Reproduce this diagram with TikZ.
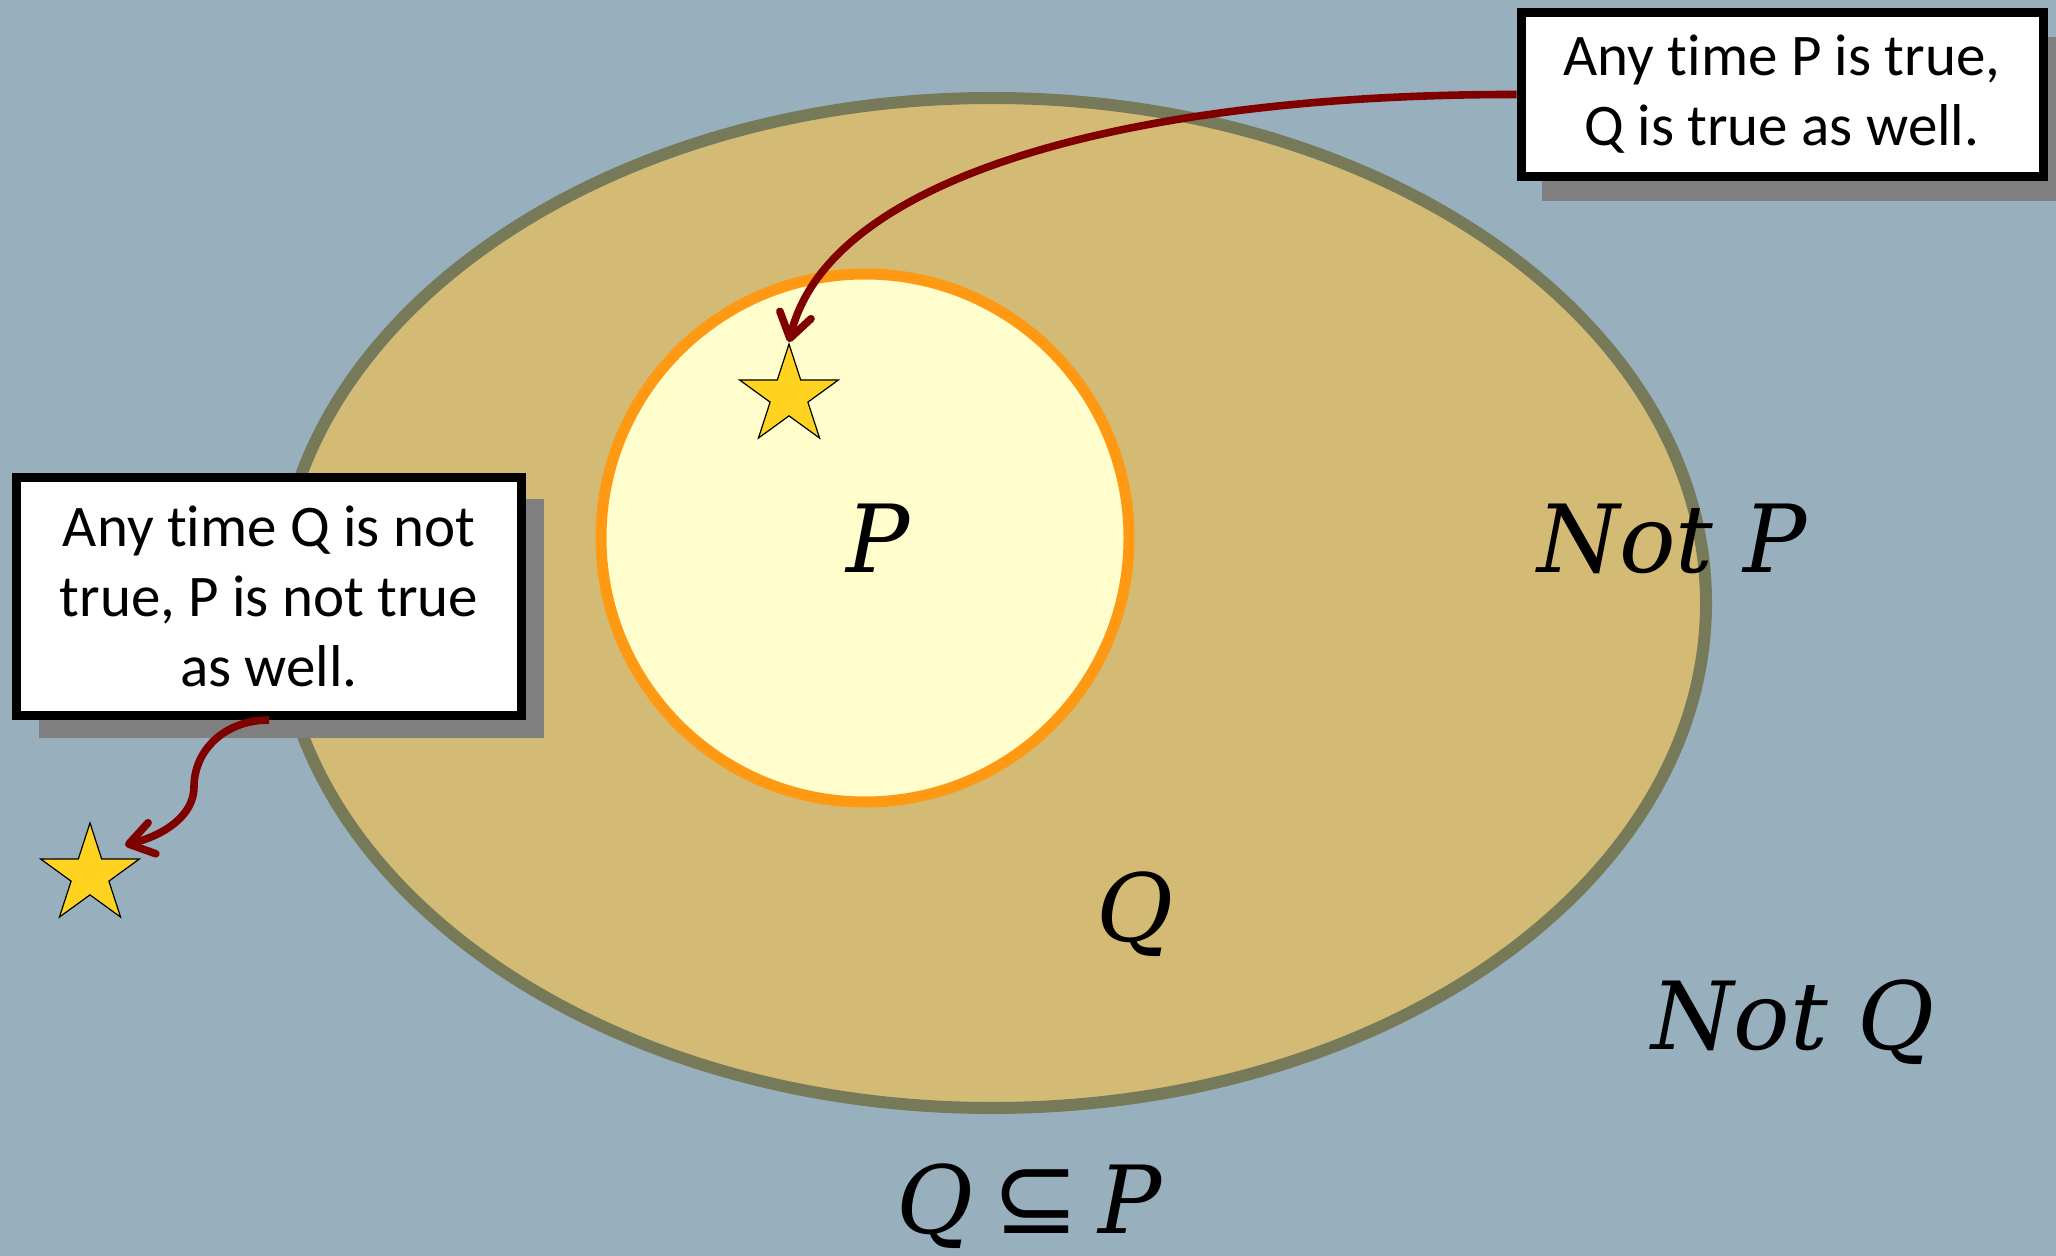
\documentclass[tikz,border=0pt]{standalone}
\usepackage{fontspec}
\usetikzlibrary{arrows.meta,shapes.geometric,shadows}
\newfontfamily\boxfont[RawFeature=-liga]{Carlito}
\newfontfamily\lblfont{DejaVu Serif}
\newfontfamily\symfont{DejaVu Sans}
\definecolor{bgblue}{HTML}{98B0BE}
\definecolor{qfill}{HTML}{D3BB75}
\definecolor{qline}{HTML}{767A59}
\definecolor{pfill}{HTML}{FFFDCC}
\definecolor{pline}{HTML}{FF9914}
\definecolor{arrowred}{HTML}{800000}
\definecolor{starfill}{HTML}{FFD320}
\definecolor{shadowgray}{HTML}{808080}
\tikzset{
  infobox/.style={draw=black, fill=white, line width=4.5pt, rectangle, align=center, inner sep=0pt,
    font=\boxfont\fontsize{29.5pt}{35pt}\selectfont},
  lbl/.style={anchor=base, inner sep=0pt, font=\lblfont\itshape\fontsize{47pt}{52pt}\selectfont},
  yellowstar/.style={star, star points=5, star point ratio=2.618, minimum size=52pt, inner sep=0pt,
    draw=black, line width=0.6pt, fill=starfill},
  callout/.style={draw=arrowred, line width=3.8pt, -{Straight Barb[round,length=12pt,width=16pt]}}
}
\begin{document}
\begin{tikzpicture}[x=0.5pt,y=-0.5pt]
\useasboundingbox (0,0) rectangle (2056,1256);
\clip (0,0) rectangle (2056,1256);
\fill[bgblue] (0,0) rectangle (2056,1256);
% Q ellipse
\draw[qline, fill=qfill, line width=6pt] (992,603) ellipse [x radius=714, y radius=505];
% P circle
\draw[pline, fill=pfill, line width=5.5pt] (865,538) circle [radius=264];
% stars
\node[yellowstar] (s1) at (789,396) {};
\node[yellowstar] (s2) at (90,875) {};
% labels
\node[lbl] (lp) at (878,573) {P};
\node[lbl] (lnp) at (1672,573) {Not P};
\node[lbl] (lq) at (1135,941) {Q};
\node[lbl] (lnq) at (1793,1049) {Not Q};
\node[lbl] (lsub) at (1029,1233) {Q\hspace{0.2em}{\symfont\upshape\fontsize{52pt}{52pt}\selectfont ⊆}\hspace{0.2em}P};
% boxes with shadows
\node[infobox, minimum width=261pt, minimum height=82pt,
  drop shadow={shadow xshift=10.5pt, shadow yshift=-12.5pt, opacity=1, fill=shadowgray, draw=none}]
  (b1) at (1782,94.5) {Any time P is true,\\Q is true as well.};
\node[infobox, minimum width=252.5pt, minimum height=119pt,
  drop shadow={shadow xshift=11pt, shadow yshift=-11pt, opacity=1, fill=shadowgray, draw=none}]
  (b2) at (269,596.5) {Any time Q is not\\true, P is not true\\as well.};
% connectors
\coordinate (t2) at (125,845);
\coordinate (m2) at (194,787);
\draw[callout] (b1.west) .. controls (1150,94) and (830,170) .. (s1.north);
\draw[callout] (b2.south) .. controls (225,720) and (194,750) .. (m2) .. controls (194,815) and (165,835) .. (t2);
\end{tikzpicture}
\end{document}
